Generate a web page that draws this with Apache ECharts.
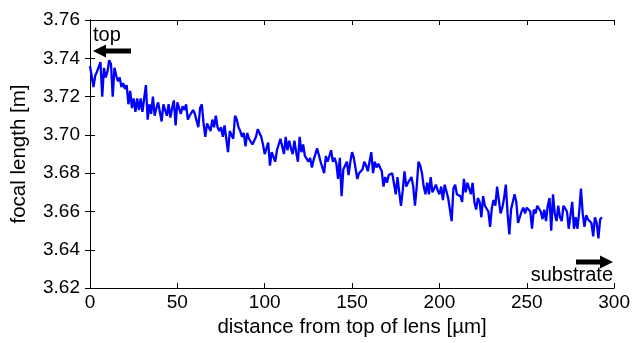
<!DOCTYPE html>
<html>
<head>
<meta charset="utf-8">
<script src="https://cdn.jsdelivr.net/npm/echarts@6/dist/echarts.min.js"></script>
<style>
  html, body { margin: 0; padding: 0; background: #fff; }
  #chart { width: 633px; height: 343px; }
</style>
</head>
<body>
<div id="chart"></div>
<script>
// focal length [m] sampled every 1 µm from the top of the lens (0 .. 293 µm)
const focalLength = [
  3.736, 3.736, 3.725, 3.731, 3.733, 3.732, 3.738, 3.720, 3.735, 3.730,
  3.733, 3.739, 3.737, 3.720, 3.735, 3.731, 3.728, 3.730, 3.725, 3.727,
  3.724, 3.726, 3.716, 3.723, 3.714, 3.719, 3.712, 3.719, 3.713, 3.719,
  3.712, 3.719, 3.726, 3.708, 3.716, 3.711, 3.720, 3.710, 3.714, 3.717,
  3.712, 3.707, 3.716, 3.717, 3.710, 3.716, 3.709, 3.714, 3.718, 3.705,
  3.717, 3.716, 3.711, 3.715, 3.713, 3.716, 3.708, 3.710, 3.710, 3.713,
  3.711, 3.710, 3.704, 3.714, 3.716, 3.706, 3.699, 3.706, 3.704, 3.702,
  3.708, 3.704, 3.710, 3.704, 3.702, 3.704, 3.699, 3.705, 3.698, 3.691,
  3.702, 3.700, 3.698, 3.710, 3.708, 3.704, 3.702, 3.699, 3.701, 3.694,
  3.701, 3.698, 3.698, 3.695, 3.694, 3.699, 3.703, 3.701, 3.699, 3.695,
  3.690, 3.689, 3.696, 3.684, 3.691, 3.690, 3.686, 3.692, 3.695, 3.698,
  3.699, 3.690, 3.699, 3.692, 3.697, 3.693, 3.690, 3.697, 3.691, 3.686,
  3.699, 3.691, 3.695, 3.689, 3.689, 3.686, 3.688, 3.683, 3.687, 3.690,
  3.693, 3.692, 3.686, 3.687, 3.680, 3.689, 3.686, 3.686, 3.692, 3.686,
  3.688, 3.685, 3.677, 3.688, 3.668, 3.682, 3.683, 3.686, 3.679, 3.686,
  3.691, 3.688, 3.687, 3.677, 3.680, 3.679, 3.682, 3.686, 3.684, 3.681,
  3.686, 3.691, 3.680, 3.686, 3.683, 3.685, 3.684, 3.681, 3.673, 3.678,
  3.675, 3.679, 3.678, 3.680, 3.681, 3.669, 3.678, 3.670, 3.663, 3.671,
  3.681, 3.673, 3.675, 3.676, 3.678, 3.673, 3.663, 3.673, 3.686, 3.684,
  3.680, 3.673, 3.669, 3.675, 3.669, 3.678, 3.670, 3.669, 3.674, 3.671,
  3.669, 3.673, 3.666, 3.674, 3.673, 3.667, 3.668, 3.655, 3.672, 3.674,
  3.669, 3.670, 3.668, 3.665, 3.677, 3.670, 3.675, 3.672, 3.669, 3.675,
  3.665, 3.661, 3.667, 3.665, 3.657, 3.668, 3.663, 3.662, 3.660, 3.652,
  3.662, 3.666, 3.663, 3.673, 3.666, 3.659, 3.662, 3.667, 3.674, 3.659,
  3.648, 3.661, 3.661, 3.669, 3.665, 3.654, 3.657, 3.660, 3.662, 3.659,
  3.662, 3.663, 3.660, 3.651, 3.661, 3.659, 3.663, 3.663, 3.660, 3.656,
  3.661, 3.655, 3.663, 3.667, 3.650, 3.669, 3.659, 3.655, 3.663, 3.657,
  3.655, 3.663, 3.662, 3.660, 3.651, 3.658, 3.665, 3.651, 3.657, 3.651,
  3.660, 3.672, 3.659, 3.652, 3.658, 3.656, 3.657, 3.654, 3.647, 3.657,
  3.654, 3.646, 3.656, 3.657
];
const distance = focalLength.map((_, i) => i);

const xTicks = { min: 0, max: 300, interval: 50 };
const yTicks = { min: 3.62, max: 3.76, interval: 0.02 };

const font = "Liberation Sans, Arial, sans-serif";
const black = "#000";

const chart = echarts.init(document.getElementById("chart"), null, { renderer: "canvas" });

const boxAxis = {
  axisLine: { show: true, lineStyle: { color: black, width: 1 } },
  axisTick: { show: true, inside: true, length: 5, lineStyle: { color: black } },
  splitLine: { show: false },
};

chart.setOption({
  animation: false,
  backgroundColor: "#fff",
  grid: { left: 90, right: 16, top: 20, bottom: 50 },
  xAxis: [
    {
      type: "value", ...xTicks, position: "bottom", ...boxAxis,
      axisLabel: { color: black, fontSize: 19, fontFamily: font, margin: 5 },
      name: "distance from top of lens [µm]",
      nameLocation: "middle", nameGap: 27,
      nameTextStyle: { color: black, fontSize: 20.5, fontFamily: font },
    },
    { type: "value", ...xTicks, position: "top", ...boxAxis, axisLabel: { show: false } },
  ],
  yAxis: [
    {
      type: "value", ...yTicks, position: "left", ...boxAxis,
      axisLabel: { color: black, fontSize: 19, fontFamily: font, margin: 10, formatter: (v) => v.toFixed(2) },
      name: "focal length [m]",
      nameLocation: "middle", nameGap: 60,
      nameTextStyle: { color: black, fontSize: 20.5, fontFamily: font },
    },
    { type: "value", ...yTicks, position: "right", ...boxAxis, axisLabel: { show: false } },
  ],
  series: [
    {
      type: "line",
      data: distance.map((d, i) => [d, focalLength[i]]),
      showSymbol: false,
      lineStyle: { color: "#0000ff", width: 2.3 },
      itemStyle: { color: "#0000ff" },
    },
  ],
  graphic: [
    { type: "text", left: 93, top: 25, style: { text: "top", fill: black, font: "20px " + font } },
    {
      type: "polygon",
      shape: { points: [[93, 51], [106, 44.5], [106, 48.5], [131, 48.5], [131, 53.5], [106, 53.5], [106, 57.5]] },
      style: { fill: black },
    },
    {
      type: "polygon",
      shape: { points: [[613, 262], [600, 255.5], [600, 259.5], [576, 259.5], [576, 264.5], [600, 264.5], [600, 268.5]] },
      style: { fill: black },
    },
    { type: "text", right: 20, top: 265, style: { text: "substrate", fill: black, font: "20px " + font } },
  ],
});
</script>
</body>
</html>
